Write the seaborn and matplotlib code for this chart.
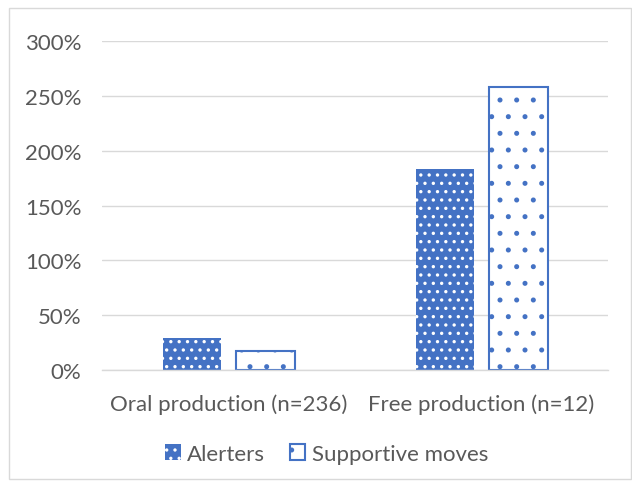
import pandas as pd
import numpy as np
import matplotlib.pyplot as plt
import seaborn as sns
from matplotlib.patches import Rectangle
from matplotlib.ticker import PercentFormatter

# ---- 数据 ----
categories = ['Oral production (n=236)', 'Free production (n=12)']
series = ['Alerters', 'Supportive moves']
alerters = [28.8, 183.3]
supportive = [17.8, 258.3]

df = pd.DataFrame({
    'category': categories * 2,
    'series': [series[0]] * 2 + [series[1]] * 2,
    'value': alerters + supportive,
})

# ---- 样式 ----
sns.set_style('white')
plt.rcParams['font.family'] = ['Lato', 'DejaVu Sans']
plt.rcParams['hatch.linewidth'] = 1.2
blue = '#4472C4'
grey_txt = '#595959'
fs = 16

fig = plt.figure(figsize=(6.32, 4.85), dpi=100)
ax = fig.add_axes([0.162, 0.235, 0.80, 0.678])

sns.barplot(data=df, x='category', y='value', hue='series', hue_order=series,
            palette=[blue, 'white'], width=0.58, gap=0.2, ax=ax, legend=False)

# 花纹: Alerters 蓝底白点, Supportive 白底蓝点
for i, bar in enumerate(ax.patches):
    if i < 2:
        bar.set_facecolor(blue)
        bar.set_edgecolor('white')
        bar.set_linewidth(0)
        bar.set_hatch('..')
    else:
        bar.set_facecolor('white')
        bar.set_edgecolor(blue)
        bar.set_linewidth(1.5)
        bar.set_hatch('.')

ax.set_ylim(0, 300)
ax.set_yticks(np.arange(0, 301, 50))
ax.yaxis.set_major_formatter(PercentFormatter(decimals=0))
ax.yaxis.grid(True, color='#D9D9D9', linewidth=1)
ax.set_axisbelow(True)
for s in ['top', 'right', 'left']:
    ax.spines[s].set_visible(False)
ax.spines['bottom'].set_color('#D9D9D9')
ax.spines['bottom'].set_linewidth(1)
ax.set_xlabel('')
ax.set_ylabel('')
ax.tick_params(axis='both', length=0, labelsize=fs, colors=grey_txt)
ax.tick_params(axis='y', pad=15)
ax.tick_params(axis='x', pad=17)

# 图例
handles = [
    Rectangle((0, 0), 1, 1, facecolor=blue, edgecolor='white', linewidth=0, hatch='..'),
    Rectangle((0, 0), 1, 1, facecolor='white', edgecolor=blue, linewidth=1.5, hatch='.'),
]
leg = fig.legend(handles, series, loc='center', bbox_to_anchor=(0.517, 0.062), ncol=2,
                 frameon=False, fontsize=fs, handlelength=0.7, handleheight=0.7,
                 handletextpad=0.3, columnspacing=1.1)
for t in leg.get_texts():
    t.set_color(grey_txt)

# 外框
fig.patches.append(Rectangle((0.014, 0.01), 0.985, 0.972, transform=fig.transFigure,
                             fill=False, edgecolor='#D9D9D9', linewidth=1))

plt.savefig('out.png', dpi=100)
